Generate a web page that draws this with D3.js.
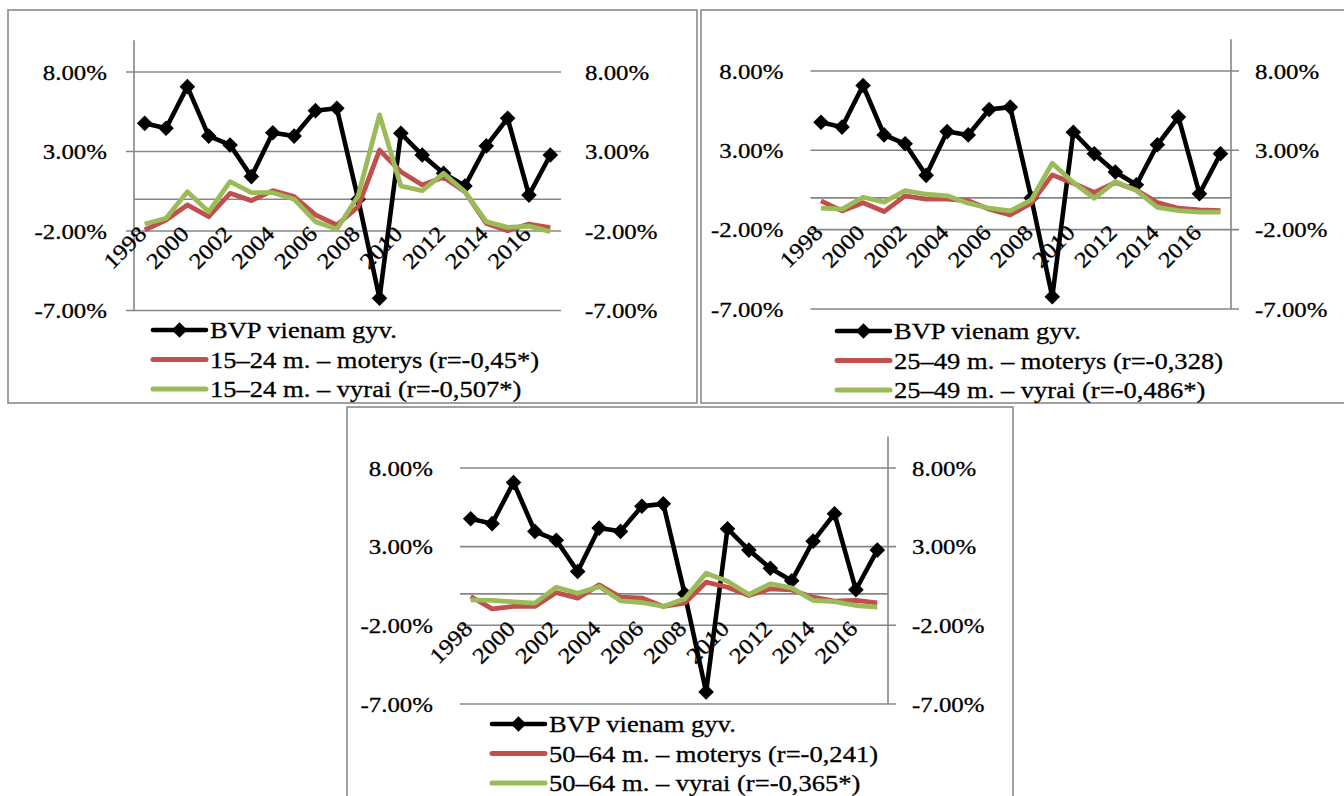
<!DOCTYPE html>
<html><head><meta charset="utf-8">
<script src="https://cdn.jsdelivr.net/npm/d3@7"></script>
<style>
body{margin:0;background:#fff}
svg{display:block}
text{font-family:"Liberation Serif","Times New Roman",serif;fill:#000;stroke:#000;stroke-width:0.3px}
</style>
</head><body>
<svg id="chart" width="1344" height="796"></svg>
<script>
// ---- data ----
const years = ["1998","1999","2000","2001","2002","2003","2004","2005","2006","2007","2008","2009","2010","2011","2012","2013","2014","2015","2016","2017"];
const yearLabels = ["1998","2000","2002","2004","2006","2008","2010","2012","2014","2016"];
const yTicks = [-7, -2, 3, 8];
const gdp = [4.77, 4.46, 7.08, 3.97, 3.41, 1.42, 4.18, 3.97, 5.57, 5.72, 0.0, -6.23, 4.14, 2.78, 1.63, 0.83, 3.35, 5.09, 0.26, 2.78];
const m15 = [-1.94,-1.31,-0.36,-1.10,0.37,-0.09,0.54,0.16,-0.99,-1.62,-0.47,3.09,1.73,0.89,1.38,0.47,-1.52,-1.98,-1.56,-1.79];
const v15 = [-1.56,-1.20,0.47,-0.79,1.10,0.41,0.41,0.0,-1.41,-1.89,0.22,5.30,0.83,0.54,1.63,0.47,-1.41,-1.77,-1.69,-2.04];
const m25 = [-0.19,-0.82,-0.30,-0.86,0.13,-0.08,-0.08,-0.17,-0.71,-1.07,-0.33,1.45,0.92,0.34,0.97,0.50,-0.29,-0.65,-0.76,-0.80];
const v25 = [-0.65,-0.71,0.04,-0.27,0.46,0.23,0.13,-0.33,-0.65,-0.82,-0.13,2.19,0.97,-0.02,1.03,0.46,-0.59,-0.80,-0.90,-0.90];
const m50 = [-0.17,-0.95,-0.80,-0.80,0.08,-0.27,0.57,-0.21,-0.27,-0.80,-0.59,0.74,0.42,-0.11,0.32,0.25,-0.21,-0.46,-0.42,-0.57];
const v50 = [-0.38,-0.42,-0.51,-0.59,0.42,0.04,0.46,-0.44,-0.55,-0.80,-0.32,1.31,0.80,-0.04,0.63,0.38,-0.42,-0.49,-0.74,-0.84];
const gdpLabel = "BVP vienam gyv.";
const labels15 = ["15–24 m. – moterys (r=-0,45*)", "15–24 m. – vyrai (r=-0,507*)"];
const labels25 = ["25–49 m. – moterys (r=-0,328)", "25–49 m. – vyrai (r=-0,486*)"];
const labels50 = ["50–64 m. – moterys (r=-0,241)", "50–64 m. – vyrai (r=-0,365*)"];

// ---- style ----
const COL_GDP = "#000000", COL_RED = "#C0504D", COL_GREEN = "#9BBB59", COL_GRID = "#868686", COL_FRAME = "#8a8a8a";
const STRETCH = 1.13;
const TICK_FS = 22, LEG_FS = 23.5;

const svg = d3.select("#chart");
const fmt = d => d3.format(".2f")(d).replace("\u2212", "-") + "%";

const panels = [
  {frame:[8,10,689,393], L:134, R:561, T:40.2, B:310.5, axisSide:"left", gx0:126, gx1:561, legX:153, legY:330, red:m15, green:v15, labels:labels15},
  {frame:[701,10,650,393], L:810.5, R:1231, T:39.2, B:309, axisSide:"right", gx0:810.5, gx1:1239, legX:837, legY:331, red:m25, green:v25, labels:labels25},
  {frame:[347,407,666,400], L:460, R:888, T:436.5, B:704, axisSide:"right", gx0:460, gx1:896, legX:492, legY:724, red:m50, green:v50, labels:labels50}
];

function stretchText(g, x, y, str, fs, anchor) {
  return g.append("text")
    .attr("transform", `translate(${x},${y}) scale(${STRETCH},1)`)
    .attr("text-anchor", anchor)
    .attr("dy", "0.35em")
    .style("font-size", fs + "px")
    .text(str);
}

const diamond = d3.symbol().type(d3.symbolSquare).size(122);

panels.forEach(p => {
  const g = svg.append("g");
  const [fx, fy, fw, fh] = p.frame;
  g.append("rect").attr("x", fx).attr("y", fy).attr("width", fw).attr("height", fh)
    .attr("fill", "none").attr("stroke", COL_FRAME).attr("stroke-width", 1.6);

  const x = d3.scaleBand().domain(years).range([p.L, p.R]);
  const cx = d => x(d) + x.bandwidth() / 2;
  const y = d3.scaleLinear().domain([-7, 10]).range([p.B, p.T]);

  // gridlines
  g.selectAll(".grid").data(yTicks).join("line")
    .attr("x1", p.gx0).attr("x2", p.gx1)
    .attr("y1", d => y(d)).attr("y2", d => y(d))
    .attr("stroke", COL_GRID).attr("stroke-width", 1.6);
  // category axis at 0
  g.append("line").attr("x1", p.L).attr("x2", p.R).attr("y1", y(0)).attr("y2", y(0))
    .attr("stroke", COL_GRID).attr("stroke-width", 1.6);
  // value axis line
  const ax = p.axisSide === "left" ? p.L : p.R;
  g.append("line").attr("x1", ax).attr("x2", ax).attr("y1", p.T).attr("y2", p.B)
    .attr("stroke", COL_GRID).attr("stroke-width", 1.6);

  // tick labels left and right
  yTicks.forEach(t => {
    stretchText(g, p.L - 27, y(t), fmt(t), TICK_FS, "end");
    stretchText(g, p.R + 24, y(t), fmt(t), TICK_FS, "start");
  });

  // year labels
  yearLabels.forEach(yr => {
    g.append("text")
      .attr("transform", `translate(${cx(yr) + 3},${y(0) + 36}) rotate(-45) scale(${STRETCH},1)`)
      .attr("text-anchor", "end")
      .style("font-size", TICK_FS + "px")
      .text(yr);
  });

  // lines
  const line = arr => d3.line().x((d, i) => cx(years[i])).y(d => y(d))(arr);
  g.append("path").attr("d", line(gdp)).attr("fill", "none").attr("stroke", COL_GDP)
    .attr("stroke-width", 4.6).attr("stroke-linejoin", "miter");
  g.selectAll(".mk").data(gdp).join("path")
    .attr("d", diamond)
    .attr("transform", (d, i) => `translate(${cx(years[i])},${y(d)}) rotate(45)`)
    .attr("fill", COL_GDP);
  g.append("path").attr("d", line(p.red)).attr("fill", "none").attr("stroke", COL_RED)
    .attr("stroke-width", 4.8).attr("stroke-linejoin", "round");
  g.append("path").attr("d", line(p.green)).attr("fill", "none").attr("stroke", COL_GREEN)
    .attr("stroke-width", 4.8).attr("stroke-linejoin", "round");

  // legend
  const rows = [
    {label: gdpLabel, col: COL_GDP, marker: true},
    {label: p.labels[0], col: COL_RED},
    {label: p.labels[1], col: COL_GREEN}
  ];
  rows.forEach((r, i) => {
    const ly = p.legY + i * 29.5;
    g.append("line").attr("x1", p.legX).attr("x2", p.legX + 53).attr("y1", ly).attr("y2", ly)
      .attr("stroke", r.col).attr("stroke-width", r.marker ? 4.6 : 5).attr("stroke-linecap", "round");
    if (r.marker) {
      g.append("path").attr("d", diamond)
        .attr("transform", `translate(${p.legX + 26.5},${ly}) rotate(45)`).attr("fill", r.col);
    }
    stretchText(g, p.legX + 57, ly, r.label, LEG_FS, "start");
  });
});
</script>
</body></html>
